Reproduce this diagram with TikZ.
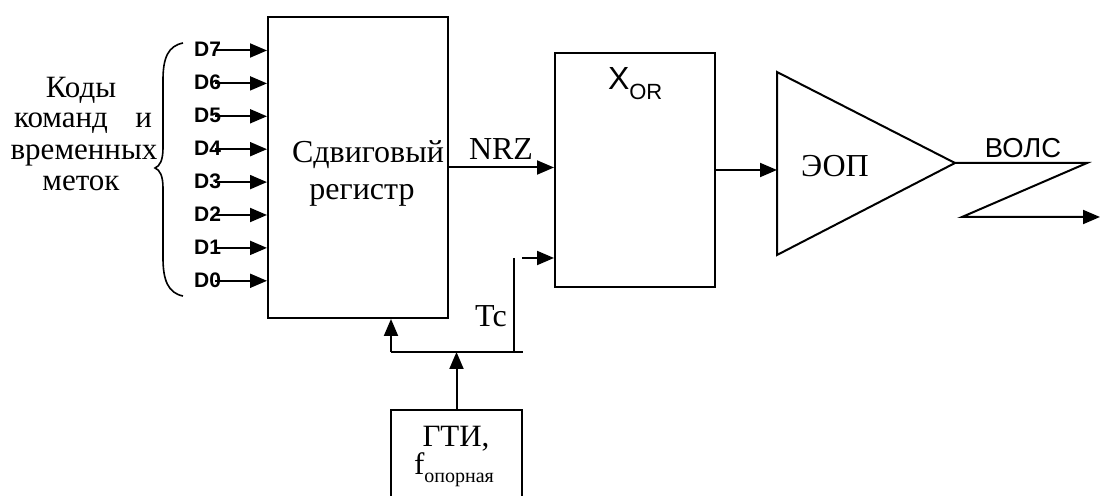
\documentclass[tikz,border=0pt]{standalone}
\usepackage{fontspec}
\setmainfont{Liberation Serif}
\setsansfont{Liberation Sans}
\newfontfamily\dfont{Liberation Sans Bold}
\usetikzlibrary{arrows.meta,calc}
\begin{document}
\begin{tikzpicture}[x=0.5pt,y=-0.5pt,line width=1pt,
  arr/.style={-{Triangle[length=8.5pt,width=7pt]}},
  blk/.style={draw,inner sep=0pt},
  lab/.style={font=\fontsize{16}{16}\selectfont,inner sep=0pt,anchor=base},
  labs/.style={font=\fontsize{15.5}{15.5}\selectfont,inner sep=0pt,anchor=base},
  dlab/.style={font=\dfont\fontsize{10.5}{11}\selectfont,anchor=east,inner sep=0pt},
  sans/.style={font=\sffamily\fontsize{13.7}{14}\selectfont,inner sep=0pt,anchor=base}]
\path[use as bounding box] (0,0) rectangle (1100,496);
% blocks
\node[blk,minimum width=90pt,minimum height=150.5pt] (reg) at (358,167.5) {};
\node[blk,minimum width=80pt,minimum height=117pt] (xor) at (635,170) {};
\node[blk,minimum width=65.5pt,minimum height=55pt] (gti) at (456.5,465) {};
% triangle (EOP)
\coordinate (eopA) at (777,72);
\coordinate (eopB) at (777,255);
\coordinate (eopT) at (955,163);
\draw[line join=miter] (eopA) -- (eopT) -- (eopB) -- cycle;
% texts
\node[lab] (t1) at (368,163) {Сдвиговый};
\node[lab] (t2) at (362,200) {регистр};
\node[lab,anchor=base west] (tx) at (607,90) {\sffamily X\raisebox{-5pt}{\fontsize{11}{11}\selectfont OR}};
\node[lab] (te) at (835,177) {ЭОП};
\node[sans] (tv) at (1023,158) {ВОЛС};
\node[lab] (tn) at (501,160) {NRZ};
\node[lab] (ttc) at (491,327) {Tc};
\node[labs] (tg1) at (456,447) {ГТИ,};
\node[labs] (tg2) at (454,475) {f\raisebox{-4pt}{\fontsize{10}{10}\selectfont опорная}};
\node[labs] (l1) at (81,98) {Коды};
\node[labs] (l2) at (83,128) {\makebox[69pt][s]{команд\hfill и}};
\node[labs] (l3) at (84,160) {временных};
\node[labs] (l4) at (81,191) {меток};
% brace
\draw[line width=0.8pt] (183,43) .. controls (168,46) and (163,58) .. (163,80) -- (163,148)
  .. controls (163,160) and (160,166) .. (155,168)
  .. controls (160,170) and (163,176) .. (163,188) -- (163,258)
  .. controls (163,280) and (168,293) .. (183,296);
% D inputs
\foreach \n/\yy in {7/50.5,6/83.4,5/116.3,4/149.2,3/182.1,2/215,1/247.9,0/280.8}{
  \node[dlab] (d\n) at (222,\yy-1) {D\n};
  \coordinate (p\n) at (215,\yy);
  \draw[arr] (p\n) -- (p\n -| reg.west);
}
% NRZ
\draw[arr] (reg.east) -- (reg.east -| xor.west);
% clock
\coordinate (tcI) at (522,258);
\coordinate (tcT) at (514,258);
\coordinate (tcB) at (514,352);
\coordinate (tcE) at (523,352);
\coordinate (regin) at (391,352);
\draw (tcT) -- (tcB);
\draw (regin) -- (tcE);
\draw[arr] (tcI) -- (tcI -| xor.west);
\draw[arr] (regin) -- (regin |- reg.south);
\draw[arr] (gti.north) -- (gti.north |- tcB);
% xor -> eop
\draw[arr] (xor.east) -- (xor.east -| eopA);
% fiber
\coordinate (v1) at (1087,163);
\coordinate (v2) at (962,217);
\coordinate (vE) at (1100,217);
\draw[arr,line join=miter] (eopT) -- (v1) -- (v2) -- (vE);
\end{tikzpicture}
\end{document}
